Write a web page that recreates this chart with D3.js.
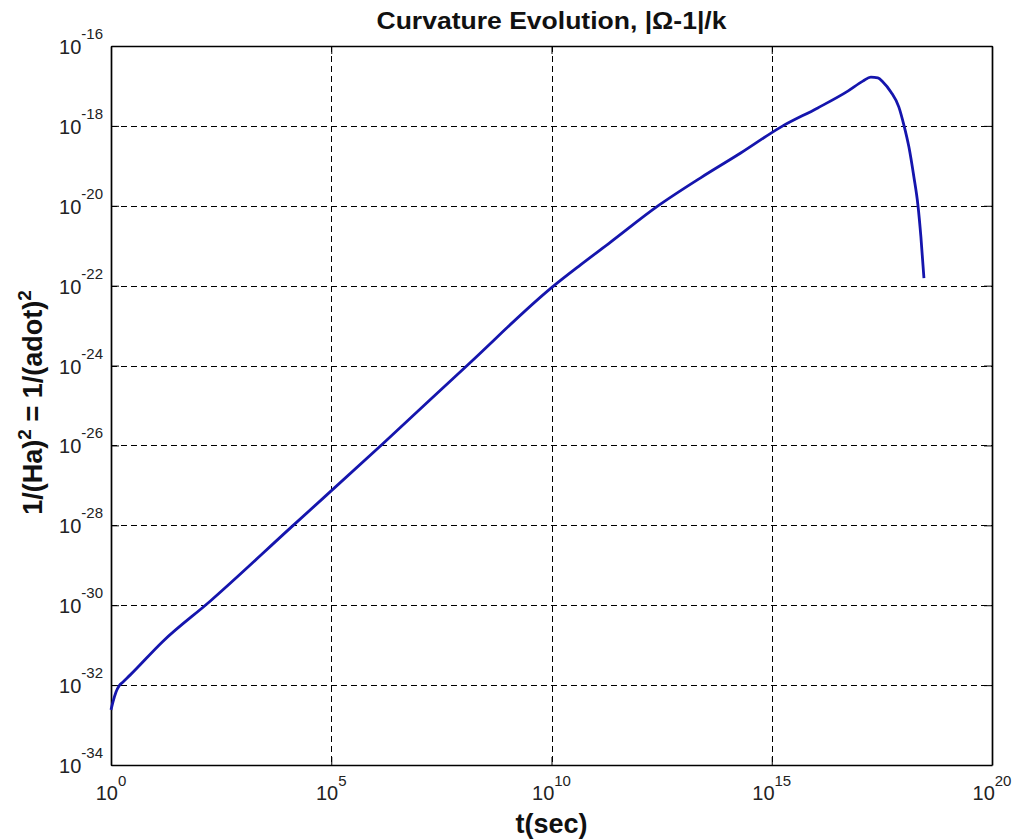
<!DOCTYPE html>
<html>
<head>
<meta charset="utf-8">
<script src="https://cdn.jsdelivr.net/npm/d3@7"></script>
<style>
  html, body { margin: 0; padding: 0; background: #fff; }
  svg { display: block; font-family: "Liberation Sans", Arial, Helvetica, sans-serif; }
</style>
</head>
<body>
<svg id="chart" width="1014" height="839"></svg>
<script>
// ---- Data ----
// log10 of t (seconds)
const tExp = [0, 0.045, 0.114, 0.182, 0.273, 0.432, 1.182, 2.25, 4.068, 6.159, 8.091, 10.023,
  10.659, 11.341, 12.409, 13.386, 14.295, 15.205, 16.045, 16.727, 17.068, 17.25, 17.409,
  17.523, 17.705, 17.886, 18.0, 18.114, 18.227, 18.318, 18.386, 18.455];
// log10 of 1/(adot)^2
const yExp = [-32.62, -32.42, -32.17, -32.02, -31.92, -31.75, -30.90, -29.90, -28.07, -25.97, -23.99, -22.03,
  -21.48, -20.91, -20.01, -19.30, -18.68, -18.03, -17.55, -17.13, -16.88, -16.78, -16.80,
  -16.90, -17.15, -17.53, -17.98, -18.53, -19.28, -19.98, -20.78, -21.81];

const xTickExps = [0, 5, 10, 15, 20];
const yTickExps = [-16, -18, -20, -22, -24, -26, -28, -30, -32, -34];

const titleText = "Curvature Evolution, |\u03A9-1|/k";
const xLabelText = "t(sec)";

// ---- Layout ----
const L = 111, R = 992, T = 46, B = 765;
const svg = d3.select("#chart");

const x = d3.scaleLog().domain([1e0, 1e20]).range([L, R]);
const y = d3.scaleLog().domain([1e-34, 1e-16]).range([B, T]);

const pts = tExp.map((e, i) => ({ t: Math.pow(10, e), v: Math.pow(10, yExp[i]) }));
const xTicks = xTickExps.map(e => Math.pow(10, e));
const yTicks = yTickExps.map(e => Math.pow(10, e));

// Grid lines
const grid = svg.append("g").attr("stroke", "#000").attr("stroke-width", 1).attr("stroke-dasharray", "6,4");
grid.selectAll("line.vx").data(xTicks.slice(1, -1)).join("line")
  .attr("x1", d => Math.round(x(d)) + 0.5).attr("x2", d => Math.round(x(d)) + 0.5)
  .attr("y1", T).attr("y2", B);
grid.selectAll("line.hy").data(yTicks.slice(1, -1)).join("line")
  .attr("y1", d => Math.round(y(d)) + 0.5).attr("y2", d => Math.round(y(d)) + 0.5)
  .attr("x1", L).attr("x2", R);

// Axes (ticks inward)
const axB = svg.append("g").attr("transform", `translate(0,${B})`)
  .call(d3.axisBottom(x).tickValues(xTicks).tickSize(-8).tickSizeOuter(0).tickFormat(""));
const axT = svg.append("g").attr("transform", `translate(0,${T})`)
  .call(d3.axisTop(x).tickValues(xTicks).tickSize(-8).tickSizeOuter(0).tickFormat(""));
const axLft = svg.append("g").attr("transform", `translate(${L},0)`)
  .call(d3.axisLeft(y).tickValues(yTicks).tickSize(-8).tickSizeOuter(0).tickFormat(""));
const axRt = svg.append("g").attr("transform", `translate(${R},0)`)
  .call(d3.axisRight(y).tickValues(yTicks).tickSize(-8).tickSizeOuter(0).tickFormat(""));
[axB, axT, axLft, axRt].forEach(g => {
  g.selectAll("path.domain").attr("stroke", "#000").attr("stroke-width", 1.7);
  g.selectAll(".tick line").attr("stroke", "#000").attr("stroke-width", 1);
});

// X tick labels 10^n
const xl = svg.append("g").attr("font-size", 20).attr("fill", "#222");
xTickExps.forEach(e => {
  const t = xl.append("text").attr("x", x(Math.pow(10, e))).attr("y", B + 35).attr("text-anchor", "middle");
  t.append("tspan").text("10");
  t.append("tspan").attr("dy", -14).attr("font-size", 15).text(String(e));
});

// Y tick labels 10^n
const yl = svg.append("g").attr("font-size", 20).attr("fill", "#222");
yTickExps.forEach(e => {
  const t = yl.append("text").attr("x", L - 8).attr("y", y(Math.pow(10, e)) + 8).attr("text-anchor", "end");
  t.append("tspan").text("10");
  t.append("tspan").attr("dy", -15).attr("font-size", 15).text(String(e));
});

// Curve
svg.append("path").datum(pts)
  .attr("d", d3.line().x(d => x(d.t)).y(d => y(d.v)).curve(d3.curveMonotoneX))
  .attr("fill", "none").attr("stroke", "#1515ad").attr("stroke-width", 2.8)
  .attr("stroke-linejoin", "round").attr("stroke-linecap", "butt");

// Title
svg.append("text").attr("x", (L + R) / 2).attr("y", 29).attr("text-anchor", "middle")
  .attr("font-size", 24).attr("font-weight", "bold").attr("fill", "#111")
  .attr("textLength", 350).attr("lengthAdjust", "spacingAndGlyphs")
  .text(titleText);

// X label
svg.append("text").attr("x", (L + R) / 2).attr("y", 833).attr("text-anchor", "middle")
  .attr("font-size", 27).attr("font-weight", "bold").attr("fill", "#111")
  .text(xLabelText);

// Y label
const ylab = svg.append("text")
  .attr("transform", `translate(42,${(T + B) / 2 - 3}) rotate(-90)`)
  .attr("text-anchor", "middle").attr("font-size", 27).attr("font-weight", "bold").attr("fill", "#111");
ylab.append("tspan").text("1/(Ha)");
ylab.append("tspan").attr("dy", -11).attr("font-size", 19).text("2");
ylab.append("tspan").attr("dy", 11).text(" = 1/(adot)");
ylab.append("tspan").attr("dy", -11).attr("font-size", 19).text("2");
</script>
</body>
</html>
